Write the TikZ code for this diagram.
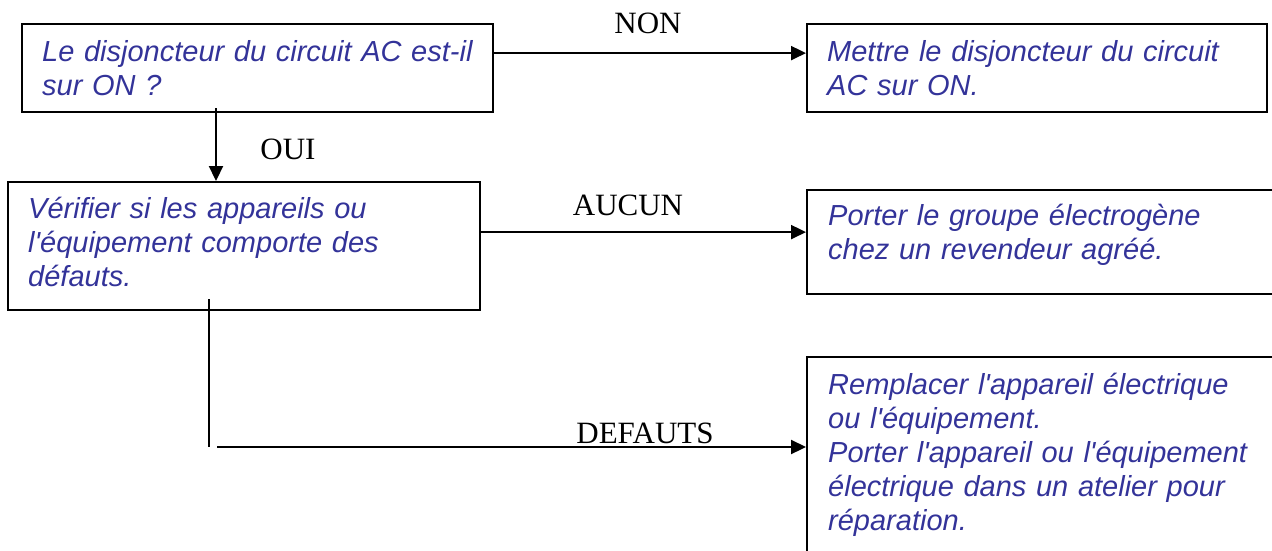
\documentclass[tikz,border=0pt]{standalone}
\usepackage{fontspec}
\usetikzlibrary{arrows.meta}
\newfontfamily\boxfont{Liberation Sans}
\newfontfamily\lblfont{Liberation Serif}
\definecolor{txtblue}{RGB}{51,51,153}
\begin{document}
\begin{tikzpicture}[x=1pt,y=-1pt,
 box/.style={draw=black,line width=2.2pt,rectangle,inner sep=0pt,anchor=north west},
 btext/.style={anchor=base west,inner sep=0pt,text width=460pt,align=left,font=\boxfont\itshape\fontsize{29}{34}\selectfont,text=txtblue},
 lbl/.style={anchor=base,inner sep=0pt,font=\lblfont\fontsize{31}{36}\selectfont},
 conn/.style={line width=2.2pt},
 arr/.style={conn,-{Triangle[length=15pt,width=14pt]}}]
\useasboundingbox (0,0) rectangle (1272,550);
\clip (0,0) rectangle (1272,550);
% boxes
\node[box,minimum width=471pt,minimum height=88pt] (A) at (21,23) {};
\node[box,minimum width=460pt,minimum height=88pt] (B) at (806,23) {};
\node[box,minimum width=472pt,minimum height=128pt] (C) at (7,181) {};
\node[box,minimum width=480pt,minimum height=104pt] (D) at (806,189) {};
\node[box,minimum width=480pt,minimum height=220pt] (E) at (806,356) {};
% texts
\node[btext] (At) at (42,61) {Le disjoncteur du circuit AC est-il\\sur ON ?};
\node[btext] (Bt) at (827,61) {Mettre le disjoncteur du circuit\\AC sur ON.};
\node[btext] (Ct) at (28,218) {Vérifier si les appareils ou\\l'équipement comporte des\\défauts.};
\node[btext] (Dt) at (828,225) {Porter le groupe électrogène\\chez un revendeur agréé.};
\node[btext] (Et) at (828,394) {Remplacer l'appareil électrique\\ou l'équipement.\\Porter l'appareil ou l'équipement\\électrique dans un atelier pour\\réparation.};
% connectors
\draw[arr] ([yshift=15pt]A.east) -- ([yshift=15pt]B.west);
\draw[arr] ([xshift=195pt,yshift=5pt]A.south west) -- ([xshift=209pt]C.north west);
\draw[arr] ([yshift=14pt]C.east) -- ([yshift=10pt]D.west);
\coordinate (d1) at (209,299);
\coordinate (d2) at (209,447);
\coordinate (d3) at (217,447);
\draw[conn] (d1) -- (d2);
\draw[arr] (d3) -- (d3 -| E.west);
% labels
\node[lbl] (lnon) at (648,33) {NON};
\node[lbl] (loui) at (288,159) {OUI};
\node[lbl] (lauc) at (628,215) {AUCUN};
\node[lbl] (ldef) at (645,443) {DEFAUTS};
\end{tikzpicture}
\end{document}
